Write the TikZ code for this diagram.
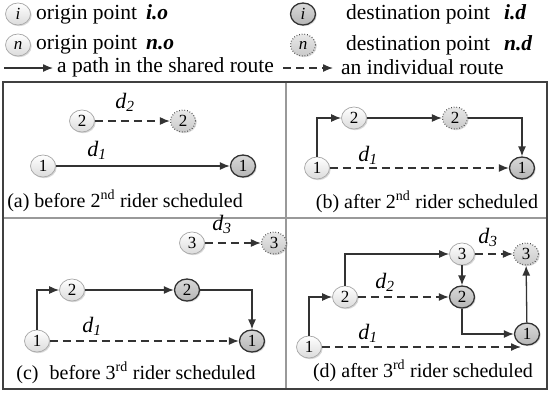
\documentclass[tikz,border=0pt]{standalone}
\usepackage{fontspec}
\setmainfont{Liberation Serif}
\usetikzlibrary{arrows.meta,shapes.geometric,shadows,calc}
\begin{document}
\begin{tikzpicture}[x=1pt,y=-1pt,
 onode/.style={ellipse, draw=gray!70, line width=0.7pt, top color=white, bottom color=gray!28,
   minimum width=25pt, minimum height=22pt, inner sep=0pt, font=\fontsize{17}{17}\selectfont,
   drop shadow={opacity=0.3,shadow xshift=1.2pt,shadow yshift=-1.2pt}},
 dnode/.style={onode, draw=black!80, line width=1.3pt, top color=gray!30, bottom color=gray!58},
 unode/.style={onode, draw=black!70, dotted, line width=1.2pt, top color=gray!18, bottom color=gray!42},
 sharedarr/.style={draw=black!80, line width=1.3pt, -{Latex[length=10pt,width=8pt]}},
 indarr/.style={sharedarr, dash pattern=on 8pt off 5pt},
 lbl/.style={font=\fontsize{22}{22}\selectfont\itshape, inner sep=0pt},
 captxt/.style={font=\fontsize{20}{20}\selectfont, inner sep=0pt},
 leg/.style={font=\fontsize{21.5}{22}\selectfont, inner sep=0pt, anchor=west},
 boxframe/.style={draw=black!75, line width=1.4pt},
 divider/.style={draw=gray!80, line width=1.8pt}
]
\useasboundingbox (0,0) rectangle (550,392);

% ---------- legend ----------
\node[onode] (li) at (18,14) {\itshape i};
\node[leg] (lit) at (36,14) {origin point\hspace{9pt}\textbf{\textit{i.o}}};
\node[onode] (ln) at (18,45) {\itshape n};
\node[leg] (lnt) at (36,45) {origin point\hspace{9pt}\textbf{\textit{n.o}}};
\node[dnode] (ldi) at (303,14) {\itshape i};
\node[leg] (ldit) at (346,14) {destination point\hspace{14pt}\textbf{\textit{i.d}}};
\node[unode] (ldn) at (303,45) {\itshape n};
\node[leg] (ldnt) at (346,45) {destination point\hspace{14pt}\textbf{\textit{n.d}}};
\coordinate (la1) at (4,68);
\coordinate (la2) at (53,68);
\draw[sharedarr] (la1) -- (la2);
\node[leg] (lat) at (57,67) {a path in the shared route};
\coordinate (lb1) at (283,68);
\coordinate (lb2) at (333,68);
\draw[indarr] (lb1) -- (lb2);
\node[leg] (lbt) at (341,67) {an individual route};

% ---------- frame ----------
\fill[white] (3,82) rectangle (547,389);
\draw[divider] (3,218) -- (547,218);
\draw[divider] (286,82) -- (286,389);
\draw[boxframe] (3,82) rectangle (547,389);

% ---------- panel (a) ----------
\node[onode] (a2o) at (82,121) {2};
\node[unode] (a2d) at (183,121) {2};
\node[onode] (a1o) at (43,166) {1};
\node[dnode] (a1d) at (243,166) {1};
\draw[indarr] (a2o) -- (a2d);
\draw[sharedarr] (a1o) -- (a1d);
\node[lbl] (ad2) at (125,102) {d\textsubscript{2}};
\node[lbl] (ad1) at (97,150) {d\textsubscript{1}};
\node[captxt] (capa) at (125,201) {(a) before 2\textsuperscript{nd} rider scheduled};

% ---------- panel (b) ----------
\node[onode] (b1o) at (317,168) {1};
\node[onode] (b2o) at (354,118) {2};
\node[unode] (b2d) at (455,118) {2};
\node[dnode] (b1d) at (522,168) {1};
\draw[sharedarr] (b1o.north) |- (b2o);
\draw[sharedarr] (b2o) -- (b2d);
\draw[sharedarr] (b2d) -| (b1d.north);
\draw[indarr] (b1o) -- (b1d);
\node[lbl] (bd1) at (368,155) {d\textsubscript{1}};
\node[captxt] (capb) at (427,202) {(b) after 2\textsuperscript{nd} rider scheduled};

% ---------- panel (c) ----------
\node[onode] (c3o) at (192,243) {3};
\node[unode] (c3d) at (274,243) {3};
\node[onode] (c2o) at (72,290) {2};
\node[dnode] (c2d) at (187,290) {2};
\node[onode] (c1o) at (37,341) {1};
\node[dnode] (c1d) at (252,341) {1};
\draw[indarr] (c3o) -- (c3d);
\draw[sharedarr] (c1o.north) |- (c2o);
\draw[sharedarr] (c2o) -- (c2d);
\draw[sharedarr] (c2d) -| (c1d.north);
\draw[indarr] (c1o) -- (c1d);
\node[lbl] (cd3) at (222,224) {d\textsubscript{3}};
\node[lbl] (cd1) at (92,326) {d\textsubscript{1}};
\node[captxt] (capc) at (136,373) {(c)\hspace{6pt} before 3\textsuperscript{rd} rider scheduled};

% ---------- panel (d) ----------
\node[onode] (d1o) at (309,347) {1};
\node[onode] (d2o) at (345,297) {2};
\node[onode] (d3o) at (462,254) {3};
\node[unode] (d3d) at (526,254) {3};
\node[dnode] (d2d) at (462,297) {2};
\node[dnode] (d1d) at (527,334) {1};
\coordinate (d1end) at ($(d1d.center)+(-6,12)$);
\draw[sharedarr] (d1o.north) |- (d2o);
\draw[sharedarr] (d2o.north) |- (d3o);
\draw[indarr] (d3o) -- (d3d);
\draw[indarr] (d2o) -- (d2d);
\draw[sharedarr] (d3o) -- (d2d);
\draw[sharedarr] (d2d.south) |- (d1d);
\draw[sharedarr] (d1d) -- (d3d);
\draw[indarr] (d1o) -- (d1o -| d1end);
\node[lbl] (dd3) at (488,237) {d\textsubscript{3}};
\node[lbl] (dd2) at (385,282) {d\textsubscript{2}};
\node[lbl] (dd1) at (368,333) {d\textsubscript{1}};
\node[captxt] (capd) at (423,371) {(d) after 3\textsuperscript{rd} rider scheduled};
\end{tikzpicture}
\end{document}
